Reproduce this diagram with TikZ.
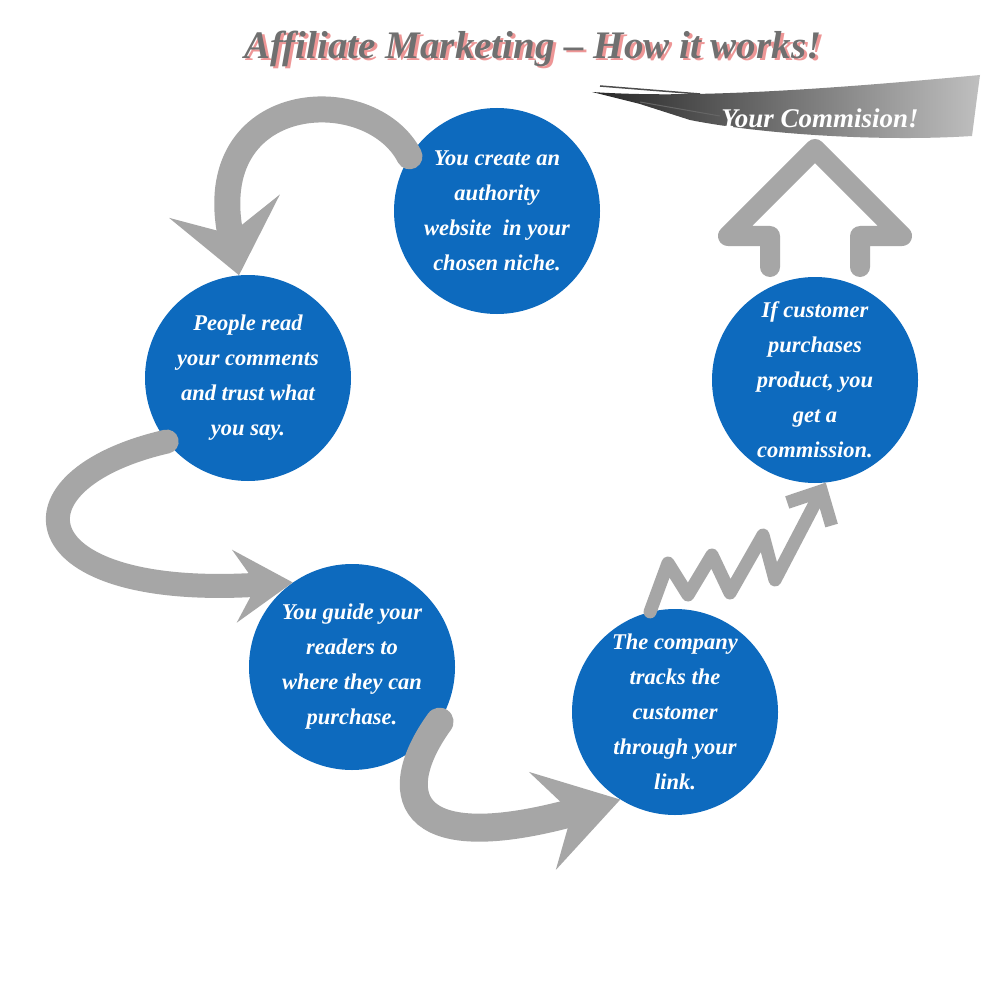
\documentclass[tikz,border=0pt]{standalone}
\usepackage{fontspec}
\setmainfont{Liberation Serif}
\usetikzlibrary{arrows.meta,positioning}
\definecolor{bubble}{RGB}{13,106,190}
\definecolor{arrowgray}{RGB}{166,166,166}
\definecolor{titlegray}{RGB}{112,112,112}
\definecolor{titlepink}{RGB}{238,150,150}
\tikzset{
  bubble/.style={circle, fill=bubble, text=white, minimum size=206pt, inner sep=0pt,
    align=center, font=\bfseries\itshape\fontsize{22.5}{35}\selectfont},
  flow/.style={draw=arrowgray, line width=26pt, line cap=round},
}
\newcommand{\shadowtext}[1]{\rlap{\kern3pt\raisebox{-2.5pt}{\color{titlepink}#1}}#1}
\begin{document}
\begin{tikzpicture}[x=1pt,y=-1pt]
\useasboundingbox[fill=white] (0,0) rectangle (1000,1000);
% 标题,带粉色阴影
\node[text=titlegray, font=\bfseries\itshape\fontsize{39}{46}\selectfont] (title) at (533,50) {\shadowtext{Affiliate Marketing – How it works!}};
% 笔刷条
\shade[left color=black!85, right color=gray!50] (592,92) .. controls (680,98) and (800,92) .. (980,75)
  -- (976,105) -- (972,136) .. controls (880,142) and (760,134) .. (690,120) -- (640,104) -- cycle;
\draw[black!70, line width=1.5pt] (600,86) -- (700,94);
\draw[black!60, line width=1pt] (640,102) -- (720,116);
\node[text=white, font=\bfseries\itshape\fontsize{27}{32}\selectfont] (commission) at (820,118) {Your Commision!};
% 五个圆
\node[bubble] (c1) at (497,211) {You create an\\authority\\website~ in your\\chosen niche.};
\node[bubble] (c2) at (248,378) {People read\\your comments\\and trust what\\you say.};
\node[bubble] (c3) at (352,667) {You guide your\\readers to\\where they can\\purchase.};
\node[bubble] (c4) at (675,712) {The company\\tracks the\\customer\\through your\\link.};
\node[bubble] (c5) at (815,380) {If customer\\purchases\\product, you\\get a\\commission.};
% 弯曲箭头
\draw[flow, -{Stealth[length=70pt, width=112pt, inset=28pt]}] (c1.148) .. controls (370,80) and (200,90) .. (c2.95);
\draw[flow, line width=24pt, -{Stealth[length=58pt, width=72pt, inset=22pt]}] (c2.218) .. controls (0,480) and (20,600) .. (c3.125);
\draw[flow, line width=28pt, -{Stealth[length=80pt, width=100pt, inset=30pt]}] (c3.-32) .. controls (390,790) and (400,860) .. (c4.238);
% 折线箭头
\draw[arrowgray, line width=13pt, line cap=round, line join=round, -{Straight Barb[length=26pt, width=50pt]}]
  (c4.104) -- (668,563) -- (688,595) -- (712,555) -- (730,593) -- (763,535) -- (775,580) -- (c5.-84);
% 向上的箭头
\coordinate (lstem) at (770,267);
\coordinate (rstem) at (860,267);
\draw[arrowgray, line width=20pt, line cap=round, line join=round]
  (lstem) -- (770,236) -- (728,236) -- (815,149) -- (902,236) -- (860,236) -- (rstem);
\end{tikzpicture}
\end{document}
